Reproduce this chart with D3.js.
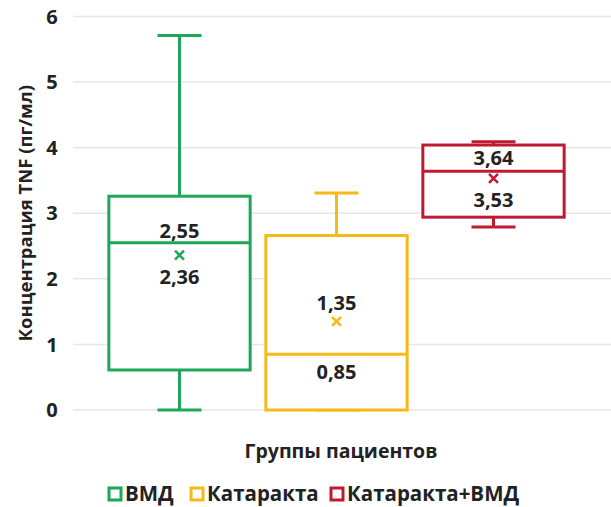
<!DOCTYPE html>
<html lang="en">
<head>
    <meta charset="UTF-8">
    <title>TNF boxplot</title>
    <script src="https://d3js.org/d3.v7.min.js"></script>
    <style>
        body{ margin:0; background:#ffffff; }
        text{ font-family: "Open Sans", "DejaVu Sans", sans-serif; font-weight: 700; fill:#222; }
        .grid line{ stroke:#e6e6e6; stroke-width:1.5; }
    </style>
</head>
<body>
<svg width="611" height="507" id="chart"></svg>
<script>
    // data
    let groups = ["ВМД", "Катаракта", "Катаракта+ВМД"]
    let colors = ["#1ea65a", "#f7b918", "#c01a32"]
    let whisker_low = [0, 0, 2.79]
    let q1 = [0.61, 0, 2.94]
    let median = [2.55, 0.85, 3.64]
    let q3 = [3.26, 2.66, 4.04]
    let whisker_high = [5.71, 3.31, 4.09]
    let means = [2.36, 1.35, 3.53]
    let y_ticks = [0, 1, 2, 3, 4, 5, 6]

    let svg = d3.select("#chart")
    let y = d3.scaleLinear().domain([0, 6]).range([410, 16.5])
    let x = d3.scaleBand().domain(groups).range([101, 572]).paddingInner(0.1).paddingOuter(0.05)

    // gridlines
    svg.append("g").attr("class", "grid")
        .selectAll("line").data(y_ticks).join("line")
        .attr("x1", 73).attr("x2", 611)
        .attr("y1", d => y(d)).attr("y2", d => y(d))

    // y tick labels
    svg.append("g").selectAll("text").data(y_ticks).join("text")
        .attr("x", 52).attr("y", d => y(d))
        .attr("dy", "0.36em")
        .attr("text-anchor", "middle")
        .style("font-size", "20px")
        .text(d => d)

    svg.append("text")
        .attr("transform", "translate(25," + y(3) + ") rotate(-90)")
        .attr("text-anchor", "middle")
        .attr("dy", "0.36em")
        .style("font-size", "18.5px")
        .text("Концентрация  TNF (пг/мл)")

    let boxes = svg.append("g").selectAll("g").data(groups).join("g")
    let cap = 22
    boxes.each(function (g, i) {
        let sel = d3.select(this)
        let cx = x(g) + x.bandwidth() / 2
        let c = colors[i]
        // whiskers
        sel.append("line").attr("x1", cx).attr("x2", cx)
            .attr("y1", y(q3[i])).attr("y2", y(whisker_high[i]))
            .attr("stroke", c).attr("stroke-width", 3)
        sel.append("line").attr("x1", cx).attr("x2", cx)
            .attr("y1", y(q1[i])).attr("y2", y(whisker_low[i]))
            .attr("stroke", c).attr("stroke-width", 3)
        sel.append("line").attr("x1", cx - cap).attr("x2", cx + cap)
            .attr("y1", y(whisker_high[i])).attr("y2", y(whisker_high[i]))
            .attr("stroke", c).attr("stroke-width", 3)
        sel.append("line").attr("x1", cx - cap).attr("x2", cx + cap)
            .attr("y1", y(whisker_low[i])).attr("y2", y(whisker_low[i]))
            .attr("stroke", c).attr("stroke-width", 3)
        // box
        sel.append("rect")
            .attr("x", x(g)).attr("width", x.bandwidth())
            .attr("y", y(q3[i])).attr("height", y(q1[i]) - y(q3[i]))
            .attr("fill", "#ffffff").attr("stroke", c).attr("stroke-width", 3)
        sel.append("line").attr("x1", x(g)).attr("x2", x(g) + x.bandwidth())
            .attr("y1", y(median[i])).attr("y2", y(median[i]))
            .attr("stroke", c).attr("stroke-width", 3)
        // mean marker
        let my = y(means[i]), s = 4.5
        sel.append("path")
            .attr("d", "M" + (cx - s) + "," + (my - s) + "L" + (cx + s) + "," + (my + s) +
                "M" + (cx - s) + "," + (my + s) + "L" + (cx + s) + "," + (my - s))
            .attr("stroke", c).attr("stroke-width", 2.5)
    })

    // value labels
    let labels = [
        {g: 0, t: "2,55", v: median[0], dy: -12},
        {g: 0, t: "2,36", v: means[0], dy: 22},
        {g: 1, t: "1,35", v: means[1], dy: -19},
        {g: 1, t: "0,85", v: median[1], dy: 18},
        {g: 2, t: "3,64", v: median[2], dy: -13},
        {g: 2, t: "3,53", v: means[2], dy: 21}
    ]
    svg.append("g").selectAll("text").data(labels).join("text")
        .attr("x", d => x(groups[d.g]) + x.bandwidth() / 2)
        .attr("y", d => y(d.v) + d.dy)
        .attr("dy", "0.36em")
        .attr("text-anchor", "middle")
        .style("font-size", "20px")
        .text(d => d.t)

    svg.append("text")
        .attr("x", 341).attr("y", 451)
        .attr("text-anchor", "middle")
        .attr("dy", "0.36em")
        .style("font-size", "19.5px")
        .text("Группы пациентов")

    // legend
    let legend_x = [109, 191, 331]
    let leg = svg.append("g").selectAll("g").data(groups).join("g")
        .attr("transform", (d, i) => "translate(" + legend_x[i] + ",494)")
    leg.append("rect").attr("x", 0).attr("y", -6).attr("width", 12).attr("height", 12)
        .attr("fill", "#ffffff").attr("stroke", (d, i) => colors[i]).attr("stroke-width", 3)
    leg.append("text").attr("x", 16).attr("dy", "0.36em")
        .style("font-size", "20.5px")
        .text(d => d)
</script>
</body>
</html>
